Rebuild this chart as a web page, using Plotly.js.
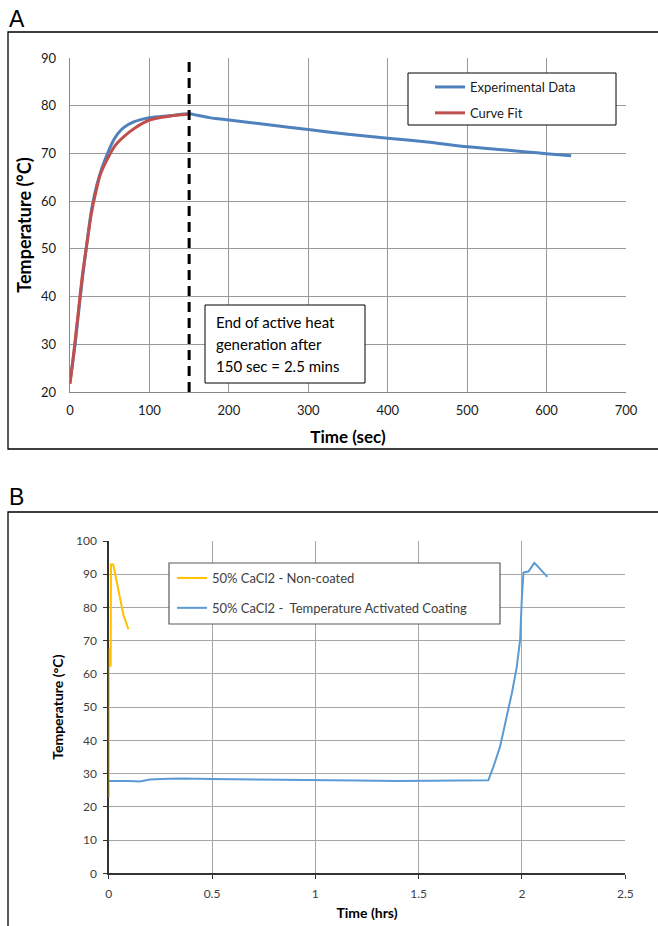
<!DOCTYPE html>
<html>
<head>
<meta charset="utf-8">
<script src="https://cdn.plot.ly/plotly-3.0.1.min.js"></script>
<style>html,body{margin:0;padding:0;background:#fff;}#chart{width:658px;height:926px;}</style>
</head>
<body>
<div id="chart"></div>
<script>
// ---------- Panel A data ----------
const expTime = [0, 6.3, 12.7, 19.8, 27.4, 33.8, 40.1, 48.5, 55, 60, 67.5, 80.2, 100, 124.5, 150, 160, 175, 200, 250, 300, 350, 400, 450, 500, 550, 575, 600, 631];
const expTemp = [22.1, 29.8, 39.6, 49.4, 58.5, 63.4, 66.9, 70.5, 72.8, 74.1, 75.4, 76.6, 77.5, 77.9, 78.3, 78.0, 77.5, 77.0, 76.0, 75.0, 74.0, 73.2, 72.4, 71.4, 70.7, 70.3, 69.95, 69.5];
const fitTime = [0, 3.4, 7.2, 11.4, 15.6, 21.1, 26.6, 31.7, 38, 46.4, 57, 69.6, 82.3, 100, 124.5, 150];
const fitTemp = [21.7, 26.3, 31.9, 38.2, 44.5, 50.8, 57.1, 61.3, 65.5, 68.6, 71.7, 73.8, 75.4, 77.0, 77.8, 78.2];
const heatEndTime = 150;
const noteLines = ["End of active heat", "generation after", "150 sec = 2.5 mins"];
const seriesNamesA = ["Experimental Data", "Curve Fit"];

// ---------- Panel B data ----------
const nonCoatedHrs = [0, 0, 0.002, 0.0097, 0.011, 0.022, 0.039, 0.055, 0.071, 0.095];
const nonCoatedTemp = [22.7, 67.8, 67.0, 62.2, 92.9, 92.9, 87.3, 82.3, 77.8, 73.5];
const coatedHrs = [0, 0.05, 0.1, 0.15, 0.2, 0.25, 0.35, 0.5, 0.6, 0.75, 0.85, 1.0, 1.2, 1.4, 1.6, 1.75, 1.837, 1.862, 1.894, 1.926, 1.951, 1.975, 1.991, 1.999, 2.007, 2.031, 2.060, 2.123];
const coatedTemp = [27.8, 27.9, 27.8, 27.6, 28.2, 28.4, 28.5, 28.4, 28.3, 28.3, 28.1, 28.0, 27.9, 27.8, 27.8, 27.9, 28.0, 32.1, 38.1, 47.2, 54.2, 62.2, 70.3, 82.3, 90.5, 90.8, 93.4, 89.2];
const seriesNamesB = ["50% CaCl2 - Non-coated", "50% CaCl2 -\u00a0 Temperature Activated Coating"];

const W = 658, H = 926;
const px = v => v / W;
const py = v => 1 - v / H;

const fontA = "Lato, 'Open Sans', sans-serif";

const traces = [
  {x: expTime, y: expTemp, name: seriesNamesA[0], type: 'scatter', mode: 'lines',
   line: {color: '#4F81BD', width: 3, shape: 'spline', smoothing: 0.7}, xaxis: 'x', yaxis: 'y', legend: 'legend', legendgroup: 'a1'},
  {x: fitTime, y: fitTemp, name: seriesNamesA[1], type: 'scatter', mode: 'lines',
   line: {color: '#C0504D', width: 3, shape: 'spline', smoothing: 0.7}, xaxis: 'x', yaxis: 'y', legend: 'legend', legendgroup: 'a2'},
  {x: nonCoatedHrs, y: nonCoatedTemp, name: seriesNamesB[0], type: 'scatter', mode: 'lines',
   line: {color: '#FFC000', width: 2}, xaxis: 'x2', yaxis: 'y2', legend: 'legend2', legendgroup: 'b1'},
  {x: coatedHrs, y: coatedTemp, name: seriesNamesB[1], type: 'scatter', mode: 'lines',
   line: {color: '#5B9BD5', width: 2}, xaxis: 'x2', yaxis: 'y2', legend: 'legend2', legendgroup: 'b2'}
];

const annotations = [
  {text: 'A', xref: 'paper', yref: 'paper', x: px(7), y: py(19), xanchor: 'left', yanchor: 'middle', showarrow: false,
   font: {family: "'Liberation Sans', Arial, sans-serif", size: 23, color: '#000'}},
  {text: 'B', xref: 'paper', yref: 'paper', x: px(7), y: py(497), xanchor: 'left', yanchor: 'middle', showarrow: false,
   font: {family: "'Liberation Sans', Arial, sans-serif", size: 23, color: '#000'}}
];
const noteY = [322, 344, 366];
noteLines.forEach((t, i) => annotations.push({
  text: t, xref: 'paper', yref: 'paper', x: px(214), y: py(noteY[i]), xanchor: 'left', yanchor: 'middle',
  showarrow: false, font: {family: fontA, size: 15, color: '#000'}
}));

const shapes = [
  // frames
  {type: 'rect', xref: 'paper', yref: 'paper', x0: px(8), x1: px(670), y0: py(449), y1: py(32),
   line: {color: '#000', width: 1.3}, layer: 'below'},
  {type: 'rect', xref: 'paper', yref: 'paper', x0: px(8), x1: px(670), y0: py(940), y1: py(512),
   line: {color: '#000', width: 1.3}, layer: 'below'},
  // dashed heat-end line
  {type: 'line', xref: 'x', yref: 'y', x0: heatEndTime, x1: heatEndTime, y0: 20, y1: 90,
   line: {color: '#000', width: 3, dash: '10px,6px'}, layer: 'above'},
  // note box
  {type: 'rect', xref: 'paper', yref: 'paper', x0: px(205), x1: px(365), y0: py(383), y1: py(305),
   line: {color: '#000', width: 1}, fillcolor: '#fff', layer: 'above'},
  // legend A box
  {type: 'rect', xref: 'paper', yref: 'paper', x0: px(408), x1: px(616), y0: py(125), y1: py(73),
   line: {color: '#000', width: 1}, fillcolor: '#fff', layer: 'above'},
  // legend B box
  {type: 'rect', xref: 'paper', yref: 'paper', x0: px(169), x1: px(500), y0: py(624), y1: py(563),
   line: {color: '#5a5a5a', width: 1.2}, fillcolor: '#fff', layer: 'above'}
];

const layout = {
  width: W, height: H,
  margin: {l: 0, r: 0, t: 0, b: 0, pad: 0},
  paper_bgcolor: '#fff', plot_bgcolor: '#fff',
  showlegend: true,
  xaxis: {
    domain: [px(70), px(626)], range: [0, 700], dtick: 100, tick0: 0, anchor: 'y',
    showgrid: true, gridcolor: '#9a9a9a', gridwidth: 1, zeroline: false,
    showline: true, linecolor: '#868686', linewidth: 1.3, ticks: '', ticklabelstandoff: 6,
    tickfont: {family: fontA, size: 13, color: '#1a1a1a'},
    title: {text: 'Time (sec)', standoff: 14, font: {family: fontA, size: 17, color: '#000', weight: 700}}
  },
  yaxis: {
    domain: [py(392), py(58)], range: [20, 90], dtick: 10, tick0: 0, anchor: 'x',
    showgrid: true, gridcolor: '#9a9a9a', gridwidth: 1, zeroline: false,
    showline: true, linecolor: '#868686', linewidth: 1.3, ticks: '', ticklabelstandoff: 10,
    tickfont: {family: fontA, size: 13, color: '#1a1a1a'},
    title: {text: 'Temperature (°C)', standoff: 4, font: {family: fontA, size: 18, color: '#000', weight: 700}}
  },
  xaxis2: {
    domain: [px(108.7), px(625.3)], range: [0, 2.5], dtick: 0.5, tick0: 0, anchor: 'y2',
    showgrid: true, gridcolor: '#a6a6a6', gridwidth: 1, zeroline: false, layer: 'below traces',
    showline: true, linecolor: '#333', linewidth: 1.3, ticks: 'outside', ticklen: 4, tickcolor: '#333',
    ticklabelstandoff: 5,
    tickfont: {family: fontA, size: 12, color: '#404040'},
    title: {text: 'Time (hrs)', standoff: 8, font: {family: fontA, size: 14, color: '#000', weight: 700}}
  },
  yaxis2: {
    domain: [py(873.3), py(541)], range: [0, 100], dtick: 10, tick0: 0, anchor: 'x2',
    showgrid: true, gridcolor: '#a6a6a6', gridwidth: 1, zeroline: false, layer: 'below traces',
    showline: true, linecolor: '#333', linewidth: 1.3, ticks: 'outside', ticklen: 4, tickcolor: '#333',
    ticklabelstandoff: 4,
    tickfont: {family: fontA, size: 12, color: '#404040'},
    title: {text: 'Temperature (°C)', standoff: 9, font: {family: fontA, size: 14, color: '#000', weight: 700}}
  },
  legend: {
    x: px(430), y: py(72), xanchor: 'left', yanchor: 'top', orientation: 'v',
    bgcolor: 'rgba(0,0,0,0)', borderwidth: 0, traceorder: 'grouped', tracegroupgap: 6,
    font: {family: fontA, size: 13, color: '#1a1a1a'}
  },
  legend2: {
    x: px(172), y: py(563), xanchor: 'left', yanchor: 'top', orientation: 'v',
    bgcolor: 'rgba(0,0,0,0)', borderwidth: 0, traceorder: 'grouped', tracegroupgap: 10,
    font: {family: fontA, size: 13, color: '#404040'}
  },
  annotations: annotations,
  shapes: shapes
};

Plotly.newPlot('chart', traces, layout, {staticPlot: true, displayModeBar: false});
</script>
</body>
</html>
